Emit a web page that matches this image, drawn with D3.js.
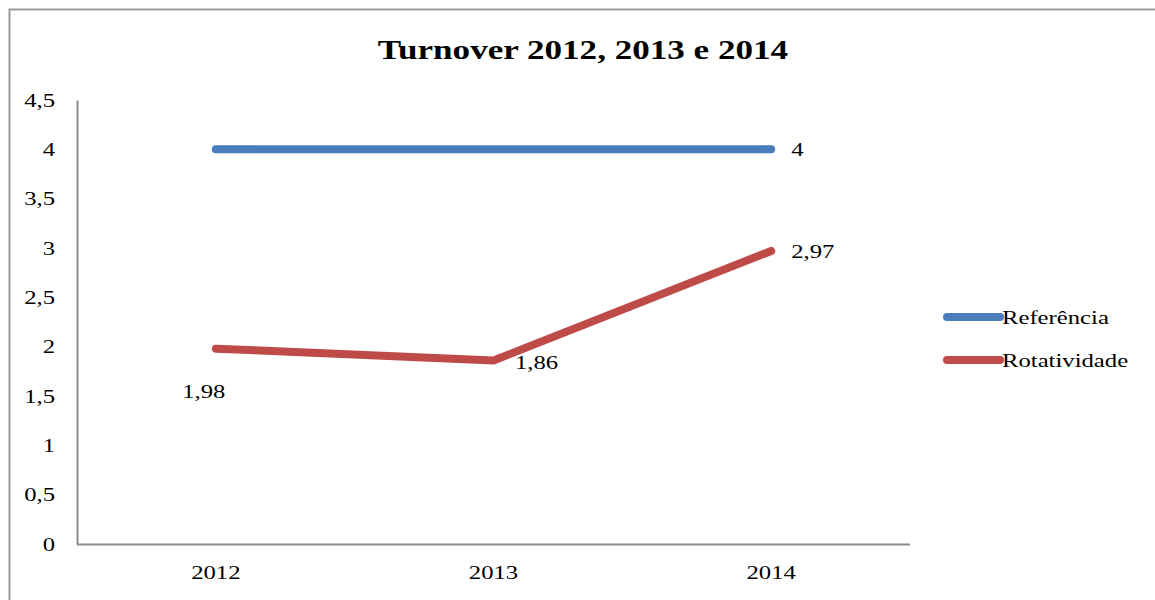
<!DOCTYPE html>
<html>
<head>
<meta charset="utf-8">
<script src="https://cdn.jsdelivr.net/npm/d3@7"></script>
<style>
  body { margin: 0; background: #fff; }
  .axis path, .axis line { stroke: #8c8c8c; }
</style>
</head>
<body>
<svg width="1155" height="600"></svg>
<script>
var years = ["2012", "2013", "2014"],
    referencia = [4, 4, 4],
    rotatividade = [1.98, 1.86, 2.97],
    yTicks = [0, 0.5, 1, 1.5, 2, 2.5, 3, 3.5, 4, 4.5];

var series = [
  {name: "Referência", values: referencia, color: "#4a7ebb"},
  {name: "Rotatividade", values: rotatividade, color: "#be4b48"}
];

var svg = d3.select("svg"),
    margin = {top: 100, left: 77, right: 245, bottom: 56},
    width = 1155 - margin.left - margin.right,
    height = 600 - margin.top - margin.bottom;

var fmt = function(d) { return String(d).replace(".", ","); };
var serif = "'Liberation Serif', 'Times New Roman', serif";
// the source picture is stretched sideways, so text is too
var stretch = 1.3;

// outer frame, runs off the right and bottom edges like the source
svg.append("rect")
    .attr("x", 9.5).attr("y", 9.5)
    .attr("width", 1200).attr("height", 650)
    .attr("fill", "none")
    .attr("stroke", "#999")
    .attr("stroke-width", 2);

svg.append("text")
    .attr("x", 583).attr("y", 59)
    .attr("text-anchor", "middle")
    .style("font-size", "27px")
    .style("font-weight", "bold")
    .text("Turnover 2012, 2013 e 2014");

var x = d3.scaleBand().domain(years).range([0, width]),
    y = d3.scaleLinear().domain([0, 4.5]).range([height, 0]);

var g = svg.append("g")
    .attr("transform", "translate(" + margin.left + "," + margin.top + ")");

g.append("g")
    .attr("class", "axis")
    .call(d3.axisLeft(y).tickValues(yTicks).tickSize(0).tickPadding(22).tickFormat(fmt));

g.append("g")
    .attr("class", "axis")
    .attr("transform", "translate(0," + height + ")")
    .call(d3.axisBottom(x).tickSize(0).tickPadding(22))
    .call(function(a) {
      a.select(".domain").attr("d", "M0,0.5H" + width);
    });
g.selectAll(".axis .domain").attr("stroke-width", 2);

var line = d3.line()
    .x(function(d, i) { return x(years[i]) + x.bandwidth() / 2; })
    .y(function(d) { return y(d); });

g.selectAll(".series")
    .data(series)
    .enter().append("path")
    .attr("class", "series")
    .attr("d", function(s) { return line(s.values); })
    .attr("fill", "none")
    .attr("stroke", function(s) { return s.color; })
    .attr("stroke-width", 8)
    .attr("stroke-linecap", "round")
    .attr("stroke-linejoin", "round");

// data labels: [series, index, dx, dy, anchor]
var labels = [
  [0, 2, 20, 7, "start"],
  [1, 0, -12, 49, "middle"],
  [1, 1, 43, 9, "middle"],
  [1, 2, 20, 7, "start"]
];
g.selectAll(".lbl")
    .data(labels)
    .enter().append("text")
    .attr("class", "lbl")
    .attr("x", function(d) { return x(years[d[1]]) + x.bandwidth() / 2 + d[2]; })
    .attr("y", function(d) { return y(series[d[0]].values[d[1]]) + d[3]; })
    .attr("text-anchor", function(d) { return d[4]; })
    .text(function(d) { return fmt(series[d[0]].values[d[1]]); });

var legend = svg.append("g")
    .attr("transform", "translate(945,317)");

var item = legend.selectAll("g")
    .data(series)
    .enter().append("g")
    .attr("transform", function(d, i) { return "translate(0," + i * 43 + ")"; });

item.append("line")
    .attr("x1", 2).attr("x2", 55)
    .attr("stroke", function(d) { return d.color; })
    .attr("stroke-width", 8)
    .attr("stroke-linecap", "round");

item.append("text")
    .attr("x", 57).attr("y", 7)
    .text(function(d) { return d.name; });

svg.selectAll("text")
    .attr("font-family", null)
    .style("font-family", serif)
    .style("fill", "#000")
    .each(function() {
      var t = d3.select(this);
      if (!t.style("font-size") || this.style.fontSize === "") t.style("font-size", "19px");
      var ax = +t.attr("x") || 0;
      t.attr("transform", "translate(" + (ax * (1 - stretch)) + ",0) scale(" + stretch + ",1)");
    });
</script>
</body>
</html>
